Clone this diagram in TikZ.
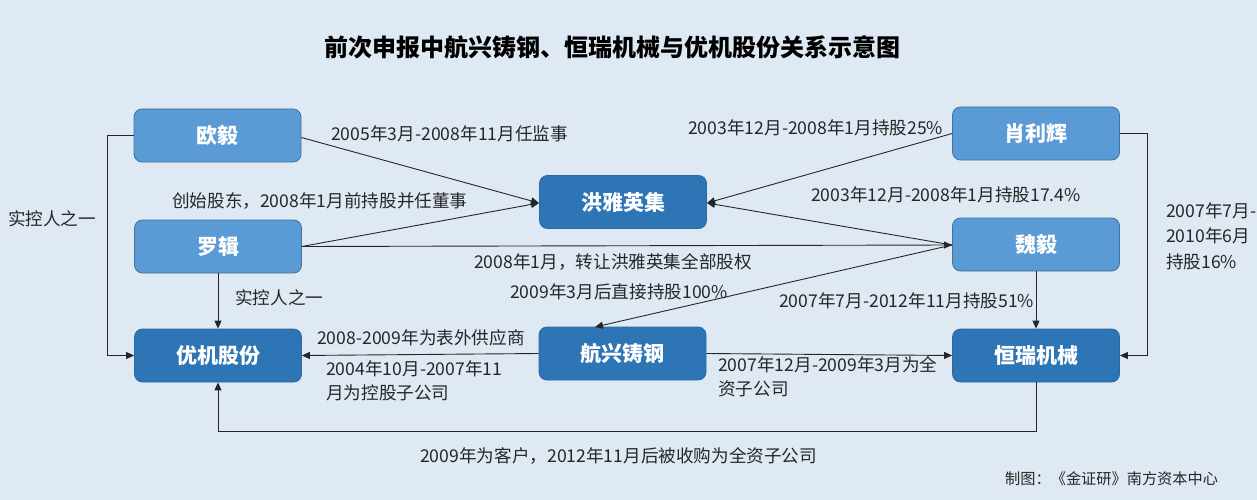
\documentclass[tikz,border=0pt]{standalone}
\usepackage{fontspec}
\setmainfont{Noto Sans CJK SC}
\usetikzlibrary{arrows.meta}
\definecolor{bgc}{HTML}{DEE9F4}
\definecolor{lightfill}{HTML}{5B9BD5}
\definecolor{lightdraw}{HTML}{41719C}
\definecolor{darkfill}{HTML}{2E75B6}
\definecolor{darkdraw}{HTML}{2A68A3}
\definecolor{linec}{HTML}{262626}
\begin{document}
\begin{tikzpicture}[x=1pt,y=-1pt,
  box/.style={rounded corners=8pt,minimum width=167pt,minimum height=53pt,inner sep=0pt,
    text=white,font=\fontsize{21}{24}\selectfont\bfseries,line width=0.8pt},
  person/.style={box,fill=lightfill,draw=lightdraw},
  company/.style={box,fill=darkfill,draw=darkdraw},
  lbl/.style={font=\fontsize{17.6}{24}\selectfont,text=linec,inner sep=0pt},
  conn/.style={draw=linec,line width=0.9pt,-{Triangle[length=8pt,width=7pt]}},
  plain/.style={draw=linec,line width=0.9pt}]
\fill[bgc] (0,0) rectangle (1257,500);
\useasboundingbox (0,0) rectangle (1257,500);
\node[font=\fontsize{24}{28}\selectfont\bfseries] (title) at (612,47) {前次申报中航兴铸钢、恒瑞机械与优机股份关系示意图};
% nodes
\node[person] (ouyi) at (217.5,135.5) {欧毅};
\node[person] (luoji) at (218,246.5) {罗辑};
\node[company] (youji) at (218,355.5) {优机股份};
\node[company] (hongya) at (623,202) {洪雅英集};
\node[company] (hangxing) at (622.5,353.5) {航兴铸钢};
\node[person] (xiao) at (1036,133.5) {肖利辉};
\node[person] (weiyi) at (1036,244.5) {魏毅};
\node[company] (hengrui) at (1036,355.5) {恒瑞机械};
% coordinates
\coordinate (ouyiL) at (107,135.5);
\coordinate (ouyiD) at (107,355.5);
\coordinate (xiaoR) at (1147,133.5);
\coordinate (xiaoD) at (1147,355.5);
\coordinate (hrB) at (1036,431);
\coordinate (yjB) at (218,431);
\coordinate (weiW) at (952,245);
\coordinate (hyW) at (539,203);
\coordinate (hyE) at (707,203);
\coordinate (hxN) at (595,327);
% connectors
\draw[conn] (ouyi.east) ++(0,2) -- (hyW);
\draw[conn] (luoji.east) -- (hyW);
\draw[conn] (luoji.east) -- (weiW);
\draw[conn] (xiao.west) -- (hyE);
\draw[conn] (weiW) -- (hyE);
\draw[conn] (weiW) -- (hxN);
\draw[conn] (weiyi.south) -- (hengrui.north);
\draw[conn] (xiao.east) -- (xiaoR) -- (xiaoD) -- (hengrui.east);
\draw[conn] (ouyi.west) -- (ouyiL) -- (ouyiD) -- (youji.west);
\draw[conn] (luoji.south) -- (youji.north);
\draw[conn] (hangxing.west) -- (youji.east);
\draw[conn] (hangxing.east) -- (hengrui.west);
\draw[conn] (hengrui.south) -- (hrB) -- (yjB) -- (youji.south);
% labels
\node[lbl,anchor=west] (l1) at (331,134) {2005年3月-2008年11月任监事};
\node[lbl,anchor=west] (l2) at (172,201) {创始股东，2008年1月前持股并任董事};
\node[lbl,anchor=west] (l3) at (8,219) {实控人之一};
\node[lbl,anchor=west] (l4) at (474,262) {2008年1月，转让洪雅英集全部股权};
\node[lbl,anchor=west] (l5) at (510,292) {2009年3月后直接持股100\%};
\node[lbl,anchor=west] (l6) at (235,298) {实控人之一};
\node[lbl,anchor=west] (l7) at (317,338) {2008-2009年为表外供应商};
\node[lbl,anchor=north west,align=left] (l8) at (326,360) {2004年10月-2007年11\\月为控股子公司};
\node[lbl,anchor=west] (l9) at (688,128) {2003年12月-2008年1月持股25\%};
\node[lbl,anchor=west] (l10) at (811,195) {2003年12月-2008年1月持股17.4\%};
\node[lbl,anchor=north west,align=left,font=\fontsize{17.6}{25.5}\selectfont] (l11) at (1166,202) {2007年7月-\\2010年6月\\持股16\%};
\node[lbl,anchor=west] (l12) at (779,301) {2007年7月-2012年11月持股51\%};
\node[lbl,anchor=north west,align=left] (l13) at (718,356) {2007年12月-2009年3月为全\\资子公司};
\node[lbl,anchor=west] (l14) at (420,456) {2009年为客户，2012年11月后被收购为全资子公司};
\node[lbl,anchor=west,font=\fontsize{15.2}{18}\selectfont] (l15) at (1005,479) {制图：《金证研》南方资本中心};
\end{tikzpicture}
\end{document}
